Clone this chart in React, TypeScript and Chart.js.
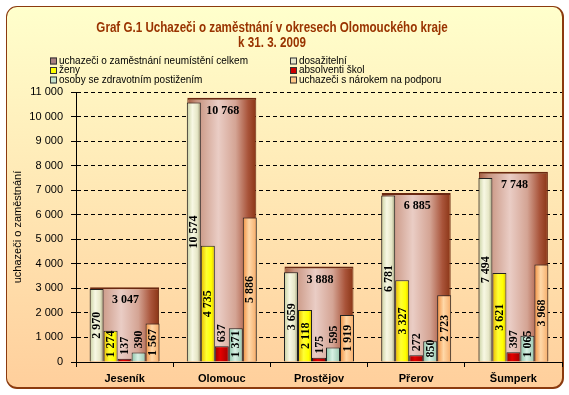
import React, { useEffect, useRef } from 'react';
import { Chart, registerables } from 'chart.js';

Chart.register(...registerables);

const categories = ['Jeseník', 'Olomouc', 'Prostějov', 'Přerov', 'Šumperk'];
const celkem = [3047, 10768, 3888, 6885, 7748];
const dosazitelni = [2970, 10574, 3659, 6781, 7494];
const zeny = [1274, 4735, 2118, 3327, 3621];
const absolventi = [137, 637, 175, 272, 397];
const osoby = [390, 1371, 595, 850, 1065];
const podpora = [1567, 5886, 1919, 2723, 3968];

const seriesNames = [
  'uchazeči o zaměstnání neumístění celkem',
  'dosažitelní',
  'ženy',
  'absolventi škol',
  'osoby se zdravotním postižením',
  'uchazeči s nárokem na podporu',
];
const titleLines = ['Graf G.1 Uchazeči o zaměstnání v okresech Olomouckého kraje', 'k 31. 3. 2009'];
const yAxisTitle = 'uchazeči o zaměstnání';
const yMin = 0;
const yMax = 11000;
const yStep = 1000;

const SANS = "'Liberation Sans', Arial, sans-serif";
const SERIF = "'Liberation Serif', 'Times New Roman', serif";
const CAT_FRONT = 0.72;
const CAT_BACK = 0.71;

const fmt = (v: number) => String(v).replace(/\B(?=(\d{3})+(?!\d))/g, ' ');

type Stop = [number, string];

function gradFor(c: any, stops: Stop[], idx: number, count: number, catPct: number) {
  const fallback = stops[Math.floor(stops.length / 2)][1];
  if (!c || c.type !== 'data' || c.dataIndex === undefined) return fallback;
  const chart = c.chart;
  const scale = chart.scales.x;
  if (!scale) return fallback;
  const n = (chart.data.labels || []).length || 1;
  const catW = scale.width / n;
  const center = scale.getPixelForValue(c.dataIndex);
  if (!isFinite(catW) || catW <= 0 || !isFinite(center)) return fallback;
  const groupW = catW * catPct;
  const barW = groupW / count;
  const left = center - groupW / 2 + idx * barW;
  const g = chart.ctx.createLinearGradient(left, 0, left + barW, 0);
  stops.forEach(([o, col]) => g.addColorStop(o, col));
  return g;
}

const backStops: Stop[] = [
  [0, '#a65c40'],
  [0.14, '#c89480'],
  [0.45, '#eacdc5'],
  [0.7, '#d4a494'],
  [0.88, '#a9543a'],
  [1, '#8a3414'],
];

const frontSeries = [
  { name: seriesNames[1], data: dosazitelni, stops: [[0, '#c8d0a0'], [0.4, '#f8f8e4'], [0.75, '#e6e6c6'], [1, '#9c9c78']] as Stop[] },
  { name: seriesNames[2], data: zeny, stops: [[0, '#e8b800'], [0.4, '#ffff33'], [0.75, '#ffff00'], [1, '#e0c000']] as Stop[] },
  { name: seriesNames[3], data: absolventi, stops: [[0, '#990000'], [0.4, '#e40000'], [1, '#a00000']] as Stop[] },
  { name: seriesNames[4], data: osoby, stops: [[0, '#8cc4a8'], [0.45, '#d8f0e4'], [1, '#98c6ae']] as Stop[] },
  { name: seriesNames[5], data: podpora, stops: [[0, '#f09040'], [0.45, '#ffd8a8'], [1, '#f6ac68']] as Stop[] },
];

const legendItems = [
  { name: seriesNames[0], color: '#a88080' },
  { name: seriesNames[1], color: '#e6e6cc' },
  { name: seriesNames[2], color: '#ffff00' },
  { name: seriesNames[3], color: '#cc0000' },
  { name: seriesNames[4], color: '#c4e0c8' },
  { name: seriesNames[5], color: '#ffc888' },
];

const titlePlugin = {
  id: 'narrowTitle',
  afterDraw(chart: any) {
    const ctx = chart.ctx;
    ctx.save();
    ctx.font = `bold 14px ${SANS}`;
    ctx.fillStyle = '#993300';
    ctx.textAlign = 'center';
    ctx.textBaseline = 'middle';
    const cx = 272;
    const ys = [28, 43];
    titleLines.forEach((t, i) => {
      ctx.save();
      ctx.translate(cx, ys[i]);
      ctx.scale(0.83, 1);
      ctx.fillText(t, 0, 0);
      ctx.restore();
    });
    ctx.restore();
  },
};

const legendPlugin = {
  id: 'customLegend',
  afterDraw(chart: any) {
    const ctx = chart.ctx;
    ctx.save();
    ctx.font = `10px ${SANS}`;
    ctx.textBaseline = 'middle';
    ctx.textAlign = 'left';
    const colX = [50, 290];
    const rowY = [61, 70.5, 80];
    legendItems.forEach((it, i) => {
      const x = colX[i % 2];
      const y = rowY[Math.floor(i / 2)];
      ctx.fillStyle = it.color;
      ctx.fillRect(x, y - 3.5, 7, 7);
      ctx.strokeStyle = '#333';
      ctx.lineWidth = 1;
      ctx.strokeRect(x + 0.5, y - 3.5 + 0.5, 6, 6);
      ctx.fillStyle = '#000';
      ctx.fillText(it.name, x + 9, y);
    });
    ctx.restore();
  },
};

const labelPlugin = {
  id: 'barLabels',
  afterDatasetsDraw(chart: any) {
    const ctx = chart.ctx;
    ctx.save();
    ctx.font = `bold 12px ${SERIF}`;
    ctx.fillStyle = '#000';
    chart.data.datasets.forEach((ds: any, di: number) => {
      const meta = chart.getDatasetMeta(di);
      meta.data.forEach((el: any, j: number) => {
        const { x, y, base } = el.getProps(['x', 'y', 'base'], true);
        const txt = fmt(ds.data[j]);
        if (ds.isBack) {
          ctx.textAlign = 'center';
          ctx.textBaseline = 'middle';
          ctx.fillText(txt, x + 1, y + 13);
          return;
        }
        const w = ctx.measureText(txt).width;
        const h = base - y;
        let cy: number;
        if (h >= 18) {
          cy = (y + base) / 2;
          if (cy + w / 2 > base - 4) cy = base - 4 - w / 2;
        } else {
          cy = y - 4 - w / 2;
        }
        ctx.save();
        ctx.translate(x + 0.5, cy);
        ctx.rotate(-Math.PI / 2);
        ctx.textAlign = 'center';
        ctx.textBaseline = 'middle';
        ctx.fillText(txt, 0, 0);
        ctx.restore();
      });
    });
    ctx.restore();
  },
};

export default function App() {
  const ref = useRef<HTMLCanvasElement>(null);

  useEffect(() => {
    if (!ref.current) return;
    const datasets: any[] = [
      {
        label: seriesNames[0],
        data: celkem,
        isBack: true,
        grouped: false,
        order: 1,
        categoryPercentage: CAT_BACK,
        barPercentage: 1,
        backgroundColor: (c: any) => gradFor(c, backStops, 0, 1, CAT_BACK),
        borderColor: '#6a2810',
        borderWidth: { top: 2, left: 1, right: 1, bottom: 0 },
        borderSkipped: 'start',
      },
      ...frontSeries.map((s, i) => ({
        label: s.name,
        data: s.data,
        order: 0,
        categoryPercentage: CAT_FRONT,
        barPercentage: 1,
        backgroundColor: (c: any) => gradFor(c, s.stops, i, frontSeries.length, CAT_FRONT),
        borderColor: '#222',
        borderWidth: 1,
        borderSkipped: 'start',
      })),
    ];

    const chart = new Chart(ref.current, {
      type: 'bar',
      data: { labels: categories, datasets },
      options: {
        responsive: false,
        animation: false,
        devicePixelRatio: 1,
        events: [],
        layout: { padding: { top: 92, left: 8, right: 7, bottom: 8 } },
        plugins: {
          legend: { display: false },
          tooltip: { enabled: false },
          title: { display: false },
        },
        scales: {
          x: {
            type: 'category',
            offset: true,
            grid: {
              display: true,
              offset: true,
              drawOnChartArea: false,
              drawTicks: true,
              tickLength: 5,
              color: '#000',
              tickColor: '#000',
            },
            border: { color: '#000', width: 1 },
            ticks: {
              color: '#000',
              font: { family: SANS, size: 11, weight: 'bold' },
              padding: 5,
            },
            afterFit: (s: any) => {
              s.height = 25;
            },
          },
          y: {
            min: yMin,
            max: yMax,
            ticks: {
              stepSize: yStep,
              color: '#000',
              font: { family: SANS, size: 11 },
              padding: 8,
              callback: (v: any) => fmt(Number(v)),
            },
            grid: { color: '#000', tickLength: 5, tickColor: '#000' },
            border: { dash: [4, 3], color: '#000', width: 1 },
            title: {
              display: true,
              text: yAxisTitle,
              color: '#000',
              font: { family: SANS, size: 11 },
              padding: { top: 3, bottom: 0 },
            },
            afterFit: (s: any) => {
              s.width = 68;
            },
          },
        },
      } as any,
      plugins: [labelPlugin, legendPlugin, titlePlugin],
    });
    return () => chart.destroy();
  }, []);

  return (
    <div style={{ position: 'fixed', left: 0, top: 0, width: 569, height: 395, background: '#fff', overflow: 'hidden' }}>
      <div
        style={{
          position: 'absolute',
          left: 6,
          top: 6,
          width: 555,
          height: 380,
          borderStyle: 'solid',
          borderColor: '#8b3a0e',
          borderWidth: '1px 2px 2px 1px',
          borderRadius: 11,
          background: 'linear-gradient(#ffffcc, #ffcf9c)',
        }}
      />
      <canvas ref={ref} width={569} height={395} style={{ position: 'absolute', left: 0, top: 0 }} />
    </div>
  );
}
